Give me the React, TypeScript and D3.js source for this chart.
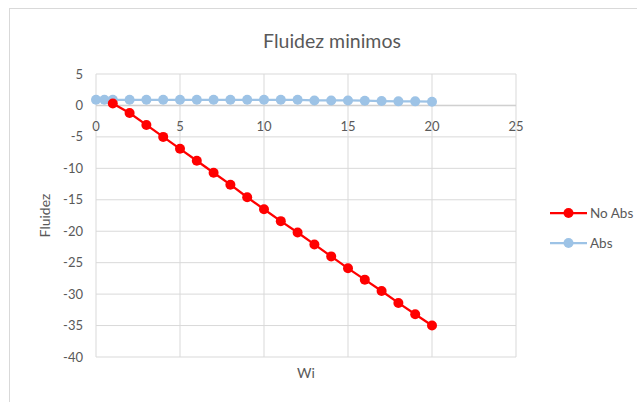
import * as d3 from "d3";
import { ReactElement } from "react";

// chart values
const noAbsX = [1, 2, 3, 4, 5, 6, 7, 8, 9, 10, 11, 12, 13, 14, 15, 16, 17, 18, 19, 20];
const noAbsY = [0.3, -1.2, -3.1, -5.0, -6.9, -8.8, -10.7, -12.6, -14.6, -16.5, -18.4, -20.2, -22.1, -24.0, -25.9, -27.7, -29.5, -31.4, -33.2, -35.0];

const absX = [0, 0.5, 1, 2, 3, 4, 5, 6, 7, 8, 9, 10, 11, 12, 13, 14, 15, 16, 17, 18, 19, 20];
const absY = [0.9, 0.9, 0.9, 0.9, 0.9, 0.9, 0.9, 0.9, 0.9, 0.9, 0.9, 0.9, 0.9, 0.9, 0.8, 0.8, 0.8, 0.75, 0.7, 0.65, 0.65, 0.6];

const xTicks = [0, 5, 10, 15, 20, 25];
const yTicks = [5, 0, -5, -10, -15, -20, -25, -30, -35, -40];

const seriesNames = ["No Abs", "Abs"];
const seriesColors = ["#ff0000", "#9dc3e6"];

const W = 637;
const H = 402;
const font = "Lato, 'Open Sans', sans-serif";
const textColor = "#595959";
const gridColor = "#d9d9d9";

const App = (): ReactElement => {
    const x = d3.scaleLinear().domain([0, 25]).range([96, 516]);
    const y = d3.scaleLinear().domain([-40, 5]).range([357, 74]);

    const line = d3.line<[number, number]>()
        .x((d) => x(d[0]))
        .y((d) => y(d[1]));

    const series = [
        noAbsX.map((v, i) => [v, noAbsY[i]] as [number, number]),
        absX.map((v, i) => [v, absY[i]] as [number, number]),
    ];

    // draw Abs under No Abs, like in the reference
    const order = [1, 0];

    return (
        <svg width={W} height={H} style={{ position: "absolute", left: 0, top: 0 }}>
            <rect x={0} y={0} width={W} height={H} fill="#fff" />
            <rect x={9.5} y={8.5} width={W + 10} height={H + 10} fill="#fff" stroke={gridColor} />

            <text x={332} y={48} textAnchor="middle" fontFamily={font} fontSize={19.5} fill={textColor}>
                Fluidez minimos
            </text>

            {/* grid */}
            {yTicks.map((t) => (
                <line key={"h" + t} x1={x(0)} x2={x(25)} y1={y(t)} y2={y(t)} stroke={gridColor} strokeWidth={1} />
            ))}
            {xTicks.map((t) => (
                <line key={"v" + t} x1={x(t)} x2={x(t)} y1={y(5)} y2={y(-40)} stroke={gridColor} strokeWidth={1} />
            ))}
            <line x1={x(0)} x2={x(25)} y1={y(0)} y2={y(0)} stroke="#d0d0d0" strokeWidth={1.5} />

            {/* y tick labels */}
            {yTicks.map((t) => (
                <text key={"yl" + t} x={83} y={y(t)} dy="0.35em" textAnchor="end" fontFamily={font} fontSize={13} fill={textColor}>
                    {t}
                </text>
            ))}
            {/* x tick labels, next to the zero line */}
            {xTicks.map((t) => (
                <text key={"xl" + t} x={x(t)} y={y(0) + 21} dy="0.35em" textAnchor="middle" fontFamily={font} fontSize={13} fill={textColor}>
                    {t}
                </text>
            ))}

            {/* axis titles */}
            <text x={x(12.5)} y={378} textAnchor="middle" fontFamily={font} fontSize={14} fill={textColor}>Wi</text>
            <text transform={`translate(50, ${(y(5) + y(-40)) / 2}) rotate(-90)`} textAnchor="middle" fontFamily={font} fontSize={14} fill={textColor}>
                Fluidez
            </text>

            {/* series */}
            {order.map((s) => (
                <g key={"s" + s}>
                    <path d={line(series[s]) ?? ""} fill="none" stroke={seriesColors[s]} strokeWidth={2.25} />
                    {series[s].map((d, i) => (
                        <circle key={i} cx={x(d[0])} cy={y(d[1])} r={5} fill={seriesColors[s]} />
                    ))}
                </g>
            ))}

            {/* legend */}
            {seriesNames.map((n, i) => (
                <g key={n} transform={`translate(0, ${213 + i * 30})`}>
                    <line x1={550} x2={587} y1={0} y2={0} stroke={seriesColors[i]} strokeWidth={2.25} />
                    <circle cx={568.5} cy={0} r={5} fill={seriesColors[i]} />
                    <text x={590} y={0} dy="0.35em" fontFamily={font} fontSize={13.5} fill={textColor}>{n}</text>
                </g>
            ))}
        </svg>
    );
};

export default App;
